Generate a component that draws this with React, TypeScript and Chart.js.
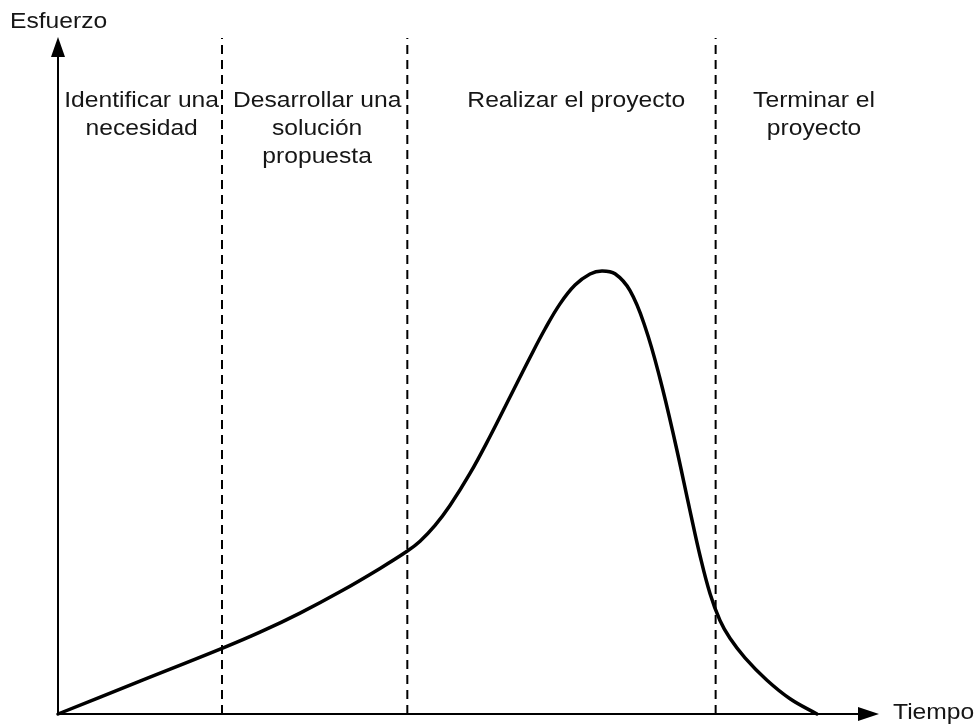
import React, { useEffect, useRef } from "react";
import { Chart, registerables } from "chart.js";

Chart.register(...registerables);

// Effort curve (time, effort) in arbitrary units 0-100
const curveTime = [0, 10.0, 20.0, 24.63, 29.51, 34.39, 39.27, 42.56, 44.15, 45.98, 47.8, 50.24, 52.68, 55.12, 57.56, 59.39, 61.22, 63.05, 64.88, 66.34, 67.93, 69.76, 71.59, 73.41, 75.24, 77.07, 78.29, 79.51, 80.73, 81.95, 83.78, 86.46, 89.27, 92.56];
const curveEffort = [0, 4.85, 9.7, 12.1, 14.93, 18.08, 21.54, 24.07, 25.56, 27.9, 30.84, 35.58, 41.05, 46.89, 52.74, 56.95, 60.67, 63.45, 65.1, 65.55, 65.12, 62.62, 57.29, 49.63, 40.31, 30.1, 23.45, 17.83, 13.83, 11.2, 8.31, 4.99, 2.26, 0];

// Phase boundaries (time)
const phaseBoundaries = [20, 42.6, 80.2];

// Phase labels and their anchor (time)
const phaseLabels = [
  ["Identificar una", "necesidad"],
  ["Desarrollar una", "solución", "propuesta"],
  ["Realizar el proyecto"],
  ["Terminar el", "proyecto"],
];
const phaseLabelAnchors = [10.2, 31.6, 63.2, 92.2];

const yAxisTitle = "Esfuerzo";
const xAxisTitle = "Tiempo";

const TEXT_COLOR = "#161616";
const FONT = "22px 'Liberation Sans', Arial, sans-serif";
const STRETCH = 1.12;

function drawText(ctx: CanvasRenderingContext2D, text: string, x: number, y: number, align: CanvasTextAlign) {
  ctx.save();
  ctx.translate(x, y);
  ctx.scale(STRETCH, 1);
  ctx.textAlign = align;
  ctx.textBaseline = "alphabetic";
  ctx.fillText(text, 0, 0);
  ctx.restore();
}

const decorPlugin = {
  id: "decor",
  afterDatasetsDraw(chart: any) {
    const ctx: CanvasRenderingContext2D = chart.ctx;
    const { left, right, top, bottom } = chart.chartArea;
    const xs = chart.scales.x;
    ctx.save();
    // axes
    ctx.strokeStyle = "#000";
    ctx.fillStyle = "#000";
    ctx.lineWidth = 2;
    ctx.beginPath();
    ctx.moveTo(left, bottom + 1);
    ctx.lineTo(left, top + 12);
    ctx.moveTo(left - 1, bottom);
    ctx.lineTo(right - 12, bottom);
    ctx.stroke();
    // y arrow head
    ctx.beginPath();
    ctx.moveTo(left, top - 1);
    ctx.lineTo(left - 7, top + 19);
    ctx.lineTo(left + 7, top + 19);
    ctx.closePath();
    ctx.fill();
    // x arrow head
    ctx.beginPath();
    ctx.moveTo(right + 1, bottom);
    ctx.lineTo(right - 20, bottom - 7);
    ctx.lineTo(right - 20, bottom + 7);
    ctx.closePath();
    ctx.fill();

    // texts
    ctx.fillStyle = TEXT_COLOR;
    ctx.font = FONT;
    drawText(ctx, yAxisTitle, 10, 28, "left");
    drawText(ctx, xAxisTitle, right + 15, bottom + 5, "left");
    phaseLabels.forEach((lines, i) => {
      const cx = xs.getPixelForValue(phaseLabelAnchors[i]);
      lines.forEach((ln, j) => {
        drawText(ctx, ln, cx, top + 69 + j * 28, "center");
      });
    });
    ctx.restore();
  },
};

export default function App() {
  const ref = useRef<HTMLCanvasElement | null>(null);
  useEffect(() => {
    if (!ref.current) return;
    const datasets: any[] = phaseBoundaries.map((b) => ({
      data: [
        { x: b, y: 0 },
        { x: b, y: 100 },
      ],
      borderColor: "#000",
      borderWidth: 2,
      borderDash: [9, 6],
      pointRadius: 0,
      clip: false,
    }));
    datasets.push({
      data: curveTime.map((t, i) => ({ x: t, y: curveEffort[i] })),
      borderColor: "#000",
      borderWidth: 3.5,
      pointRadius: 0,
      tension: 0.4,
      borderCapStyle: "round",
      borderJoinStyle: "round",
      clip: false,
    });
    const chart = new Chart(ref.current, {
      type: "line",
      data: { datasets },
      options: {
        responsive: false,
        animation: false,
        devicePixelRatio: 1,
        layout: { padding: { left: 58, right: 100, top: 38, bottom: 10 } },
        plugins: { legend: { display: false }, tooltip: { enabled: false } },
        scales: {
          x: { type: "linear", min: 0, max: 100, display: false },
          y: { type: "linear", min: 0, max: 100, display: false },
        },
      },
      plugins: [decorPlugin],
    });
    return () => chart.destroy();
  }, []);
  return (
    <div style={{ position: "fixed", left: 0, top: 0, width: 978, height: 724, background: "#fff" }}>
      <canvas ref={ref} width={978} height={724} style={{ width: 978, height: 724, display: "block" }} />
    </div>
  );
}
